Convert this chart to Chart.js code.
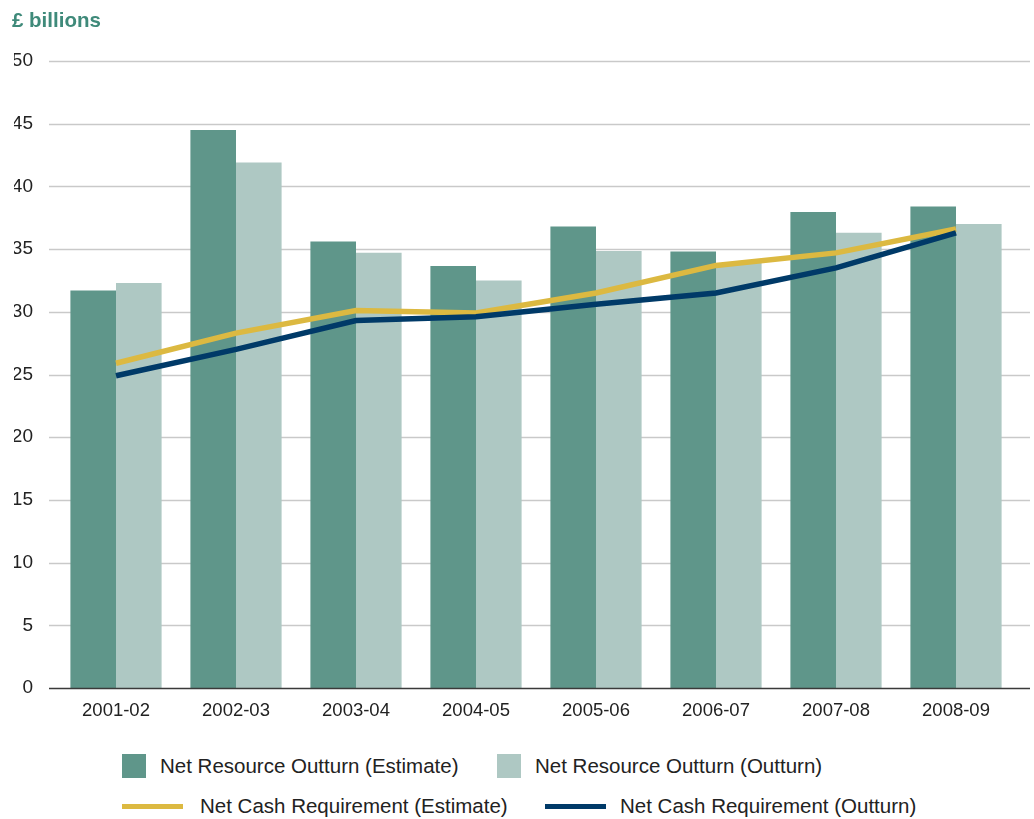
<!DOCTYPE html>
<html>
<head>
<meta charset="utf-8">
<script src="https://cdn.jsdelivr.net/npm/chart.js@4"></script>
<style>
  body { margin:0; background:#fff; font-family:"Liberation Sans", Arial, sans-serif; }
  #wrap { position:relative; width:1034px; height:819px; }
  #title { position:absolute; left:12px; top:8px; font-size:20.5px; font-weight:bold; color:#3f8a7a; }
  #chart-box { position:absolute; left:0; top:0; width:1034px; height:730px; }
  .leg { position:absolute; font-size:20.5px; color:#222; white-space:nowrap; }
  .sw { position:absolute; }
</style>
</head>
<body>
<div id="wrap">
  <div id="chart-box"><canvas id="c" width="1034" height="730"></canvas></div>
  <div id="title">£ billions</div>

  <div class="sw" style="left:122px;top:754px;width:24px;height:24px;background:#5f968a"></div>
  <div class="leg" style="left:160px;top:754px">Net Resource Outturn (Estimate)</div>
  <div class="sw" style="left:497px;top:754px;width:24px;height:24px;background:#aec8c3"></div>
  <div class="leg" style="left:535px;top:754px">Net Resource Outturn (Outturn)</div>

  <div class="sw" style="left:122px;top:804px;width:61px;height:5px;background:#dcb941"></div>
  <div class="leg" style="left:200px;top:794px">Net Cash Requirement (Estimate)</div>
  <div class="sw" style="left:545px;top:804px;width:61px;height:5px;background:#003a68"></div>
  <div class="leg" style="left:620px;top:794px">Net Cash Requirement (Outturn)</div>
</div>

<script>
const years = ['2001-02','2002-03','2003-04','2004-05','2005-06','2006-07','2007-08','2008-09'];
const resourceEstimate = [31.7, 44.5, 35.6, 33.65, 36.8, 34.8, 37.95, 38.4];
const resourceOutturn  = [32.3, 41.9, 34.7, 32.5, 34.85, 33.9, 36.3, 37.0];
const cashEstimate = [25.9, 28.3, 30.1, 29.9, 31.5, 33.7, 34.7, 36.6];
const cashOutturn  = [24.9, 27.0, 29.3, 29.6, 30.6, 31.5, 33.5, 36.3];
const yTicks = [0, 5, 10, 15, 20, 25, 30, 35, 40, 45, 50];

// gridlines run a bit wider than the category area, so draw them by hand
const gridPlugin = {
  id: 'wideGrid',
  beforeDatasetsDraw(chart){
    const ctx = chart.ctx, y = chart.scales.y;
    ctx.save();
    ctx.strokeStyle = '#c9c9c9';
    ctx.lineWidth = 1.5;
    yTicks.forEach(t => {
      if(t === 0) return;
      const py = Math.round(y.getPixelForValue(t)) + 0.5;
      ctx.beginPath(); ctx.moveTo(49, py); ctx.lineTo(1030, py); ctx.stroke();
    });
    ctx.restore();
  },
  afterDatasetsDraw(chart){
    const ctx = chart.ctx, y = chart.scales.y;
    const py = Math.round(y.getPixelForValue(0)) + 0.5;
    ctx.save();
    ctx.strokeStyle = '#3a3a3a';
    ctx.lineWidth = 1.5;
    ctx.beginPath(); ctx.moveTo(49, py); ctx.lineTo(1030, py); ctx.stroke();
    ctx.restore();
  }
};

new Chart(document.getElementById('c'), {
  data: {
    labels: years,
    datasets: [
      { type:'line', label:'Net Cash Requirement (Outturn)', data:cashOutturn, borderColor:'#003a68', borderWidth:5.5, pointRadius:0, tension:0, order:0 },
      { type:'line', label:'Net Cash Requirement (Estimate)', data:cashEstimate, borderColor:'#dcb941', borderWidth:5.5, pointRadius:0, tension:0, order:1 },
      { type:'bar', label:'Net Resource Outturn (Estimate)', data:resourceEstimate, backgroundColor:'#5f968a', order:2, barPercentage:1, categoryPercentage:0.76 },
      { type:'bar', label:'Net Resource Outturn (Outturn)', data:resourceOutturn, backgroundColor:'#aec8c3', order:2, barPercentage:1, categoryPercentage:0.76 }
    ]
  },
  options: {
    responsive:false,
    animation:false,
    layout:{ padding:{ left:14, right:18, top:61, bottom:10 } },
    plugins:{ legend:{ display:false }, tooltip:{ enabled:false } },
    scales:{
      x:{
        afterFit(axis){ axis.height = 32; },
        grid:{ display:false, drawTicks:false },
        border:{ display:false },
        ticks:{ color:'#222', font:{ family:'Liberation Sans', size:18.5 }, padding:12 }
      },
      y:{
        min:0, max:50,
        afterBuildTicks(axis){ axis.ticks = yTicks.map(v => ({ value:v })); },
        afterFit(axis){ axis.width = 42; },
        grid:{ display:false, drawTicks:false },
        border:{ display:false },
        ticks:{ color:'#222', font:{ family:'Liberation Sans', size:19 }, padding:23 }
      }
    }
  },
  plugins:[gridPlugin]
});
</script>
</body>
</html>
